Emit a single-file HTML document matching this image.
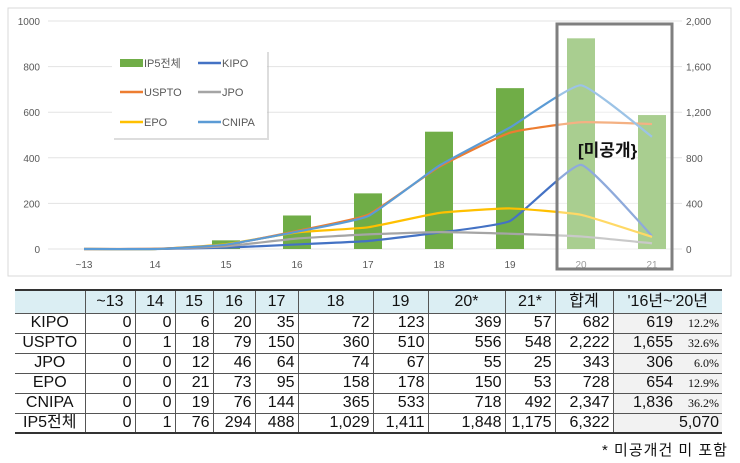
<!DOCTYPE html>
<html><head><meta charset="utf-8">
<style>
body{margin:0;width:740px;height:463px;background:#fff;overflow:hidden;font-family:"Liberation Sans","Noto Sans CJK KR",sans-serif;position:relative}
svg text{font-family:"Liberation Sans","Noto Sans CJK KR",sans-serif}
table{position:absolute;left:15px;top:289px;width:707px;table-layout:fixed;border-collapse:collapse;border-top:2px solid #333;border-bottom:2px solid #333;font-family:"Liberation Sans Narrow","Liberation Sans","Noto Sans CJK KR",sans-serif;font-size:16px;color:#111}
td{border:1px solid #555;padding:0 3px;text-align:right;height:20px;line-height:18px;white-space:nowrap;overflow:hidden;box-sizing:border-box}
tr.hd td{background:#dbeef3;text-align:center;height:23px}
td.lb{text-align:center;border-left:none}
td.sh{background:#f2f2f2;border-right:none}
tr.hd td:last-child{border-right:none}
tr.hd td:first-child{border-left:none}
.pc{font-family:"Liberation Serif",serif;font-size:12px;display:inline-block;width:46px;text-align:right}
#note{position:absolute;right:12px;top:439px;font-size:15px;font-family:"Liberation Sans","Noto Sans CJK KR",sans-serif;letter-spacing:1px;color:#111}
</style></head><body>
<svg id="chart" width="740" height="280" style="position:absolute;left:0;top:0">
<rect x="8" y="8" width="723" height="268" fill="#fff" stroke="#d9d9d9"/>
<g id="grid"></g><g id="bars"></g><g id="lines"></g>
<rect x="557" y="24" width="115" height="245" fill="#fff" opacity="0.4"/>
<rect x="557" y="24" width="115" height="245" fill="none" stroke="#7f7f7f" stroke-width="3"/>
<text x="578" y="156" font-size="17" font-weight="bold" fill="#111">[미공개}</text>
<g id="legend">
<rect x="114" y="52" width="155" height="88" fill="#bbb" opacity="0.5"/>
<rect x="112" y="50" width="155" height="88" fill="#fff"/>
</g>
</svg>
<table>
<colgroup><col style="width:70px"><col style="width:50px"><col style="width:40px"><col style="width:38px"><col style="width:42px"><col style="width:43px"><col style="width:75px"><col style="width:55px"><col style="width:77px"><col style="width:50px"><col style="width:58px"><col style="width:109px"></colgroup>
<tr class="hd"><td></td><td>~13</td><td>14</td><td>15</td><td>16</td><td>17</td><td>18</td><td>19</td><td>20*</td><td>21*</td><td>합계</td><td>'16년~'20년</td></tr>
<tr><td class="lb">KIPO</td><td>0</td><td>0</td><td>6</td><td>20</td><td>35</td><td>72</td><td>123</td><td>369</td><td>57</td><td>682</td><td class="sh">619<span class="pc">12.2%</span></td></tr>
<tr><td class="lb">USPTO</td><td>0</td><td>1</td><td>18</td><td>79</td><td>150</td><td>360</td><td>510</td><td>556</td><td>548</td><td>2,222</td><td class="sh">1,655<span class="pc">32.6%</span></td></tr>
<tr><td class="lb">JPO</td><td>0</td><td>0</td><td>12</td><td>46</td><td>64</td><td>74</td><td>67</td><td>55</td><td>25</td><td>343</td><td class="sh">306<span class="pc">6.0%</span></td></tr>
<tr><td class="lb">EPO</td><td>0</td><td>0</td><td>21</td><td>73</td><td>95</td><td>158</td><td>178</td><td>150</td><td>53</td><td>728</td><td class="sh">654<span class="pc">12.9%</span></td></tr>
<tr><td class="lb">CNIPA</td><td>0</td><td>0</td><td>19</td><td>76</td><td>144</td><td>365</td><td>533</td><td>718</td><td>492</td><td>2,347</td><td class="sh">1,836<span class="pc">36.2%</span></td></tr>
<tr><td class="lb">IP5전체</td><td>0</td><td>1</td><td>76</td><td>294</td><td>488</td><td>1,029</td><td>1,411</td><td>1,848</td><td>1,175</td><td>6,322</td><td class="sh">5,070</td></tr>
</table>
<div id="note">* 미공개건 미 포함</div>
<script>
const categories=["~13","14","15","16","17","18","19","20","21"];
const ip5Total=[0,1,76,294,488,1029,1411,1848,1175];
const kipo=[0,0,6,20,35,72,123,369,57];
const uspto=[0,1,18,79,150,360,510,556,548];
const jpo=[0,0,12,46,64,74,67,55,25];
const epo=[0,0,21,73,95,158,178,150,53];
const cnipa=[0,0,19,76,144,365,533,718,492];
const leftTicks=[0,200,400,600,800,1000];
const rightTicks=["0","400","800","1,200","1,600","2,000"];
const rightTickVals=[0,400,800,1200,1600,2000];
const NS="http://www.w3.org/2000/svg";
function X(i){return 84+71*i;}
function YL(v){return 249-v*0.228;}
function YR(v){return 249-v*0.114;}
function mk(t,a,p){const e=document.createElementNS(NS,t);for(const k in a)e.setAttribute(k,a[k]);p.appendChild(e);return e;}
const grid=document.getElementById('grid');
leftTicks.forEach((v,i)=>{
  const l=mk('line',{x1:48,x2:682,y1:YL(v),y2:YL(v),stroke:'#e3e3e3'},grid);
  
  
  const t=mk('text',{x:40,y:YL(v)+4,'text-anchor':'end','font-size':10,fill:'#595959'},grid);
  t.textContent=v;
  
  
});
rightTickVals.forEach((v,i)=>{
  const t=mk('text',{x:686,y:YR(v)+4,'font-size':10,fill:'#595959'},grid);
  t.textContent=rightTicks[i];
  
  
});
categories.forEach((c,i)=>{
  const t=mk('text',{x:X(i),y:268,'text-anchor':'middle','font-size':10,fill:'#595959'},grid);
  t.textContent=c;
  
  
});
const bars=document.getElementById('bars');
ip5Total.forEach((v,i)=>{
  const r=mk('rect',{x:X(i)-14,y:YR(v),width:28,height:249-YR(v),fill:'#70ad47'},bars);
  
  
});
const series=[["kipo",kipo,"#4472c4"],["jpo",jpo,"#a5a5a5"],["epo",epo,"#ffc000"],["uspto",uspto,"#ed7d31"],["cnipa",cnipa,"#5b9bd5"]];
const lines=document.getElementById('lines');
series.forEach(s=>{
  const pts=s[1].map((v,i)=>[X(i),YL(v)]);
  let d='M'+pts[0][0]+','+pts[0][1];
  for(let i=0;i<pts.length-1;i++){
    const p0=pts[Math.max(0,i-1)],p1=pts[i],p2=pts[i+1],p3=pts[Math.min(pts.length-1,i+2)];
    const k=0.07;
    d+=' C'+(p1[0]+(p2[0]-p0[0])*k)+','+(p1[1]+(p2[1]-p0[1])*k)+' '+(p2[0]-(p3[0]-p1[0])*k)+','+(p2[1]-(p3[1]-p1[1])*k)+' '+p2[0]+','+p2[1];
  }
  const p=mk('path',{d:d,fill:'none',stroke:s[2],'stroke-width':2.2},lines);
  
  
});
const lg=document.getElementById('legend');
const items=[["IP5전체","#70ad47",120,63,true],["KIPO","#4472c4",198,63],["USPTO","#ed7d31",120,92],["JPO","#a5a5a5",198,92],["EPO","#ffc000",120,122],["CNIPA","#5b9bd5",198,122]];
items.forEach(it=>{
  const g=mk('g',{},lg);
  
  
  if(it[4]) mk('rect',{x:it[2],y:it[3]-4,width:23,height:8,fill:it[1]},g);
  else mk('line',{x1:it[2],x2:it[2]+23,y1:it[3],y2:it[3],stroke:it[1],'stroke-width':2.5},g);
  const t=mk('text',{x:it[2]+24,y:it[3]+4,'font-size':11,fill:'#595959'},g);
  t.textContent=it[0];
});
</script>
</body></html>
